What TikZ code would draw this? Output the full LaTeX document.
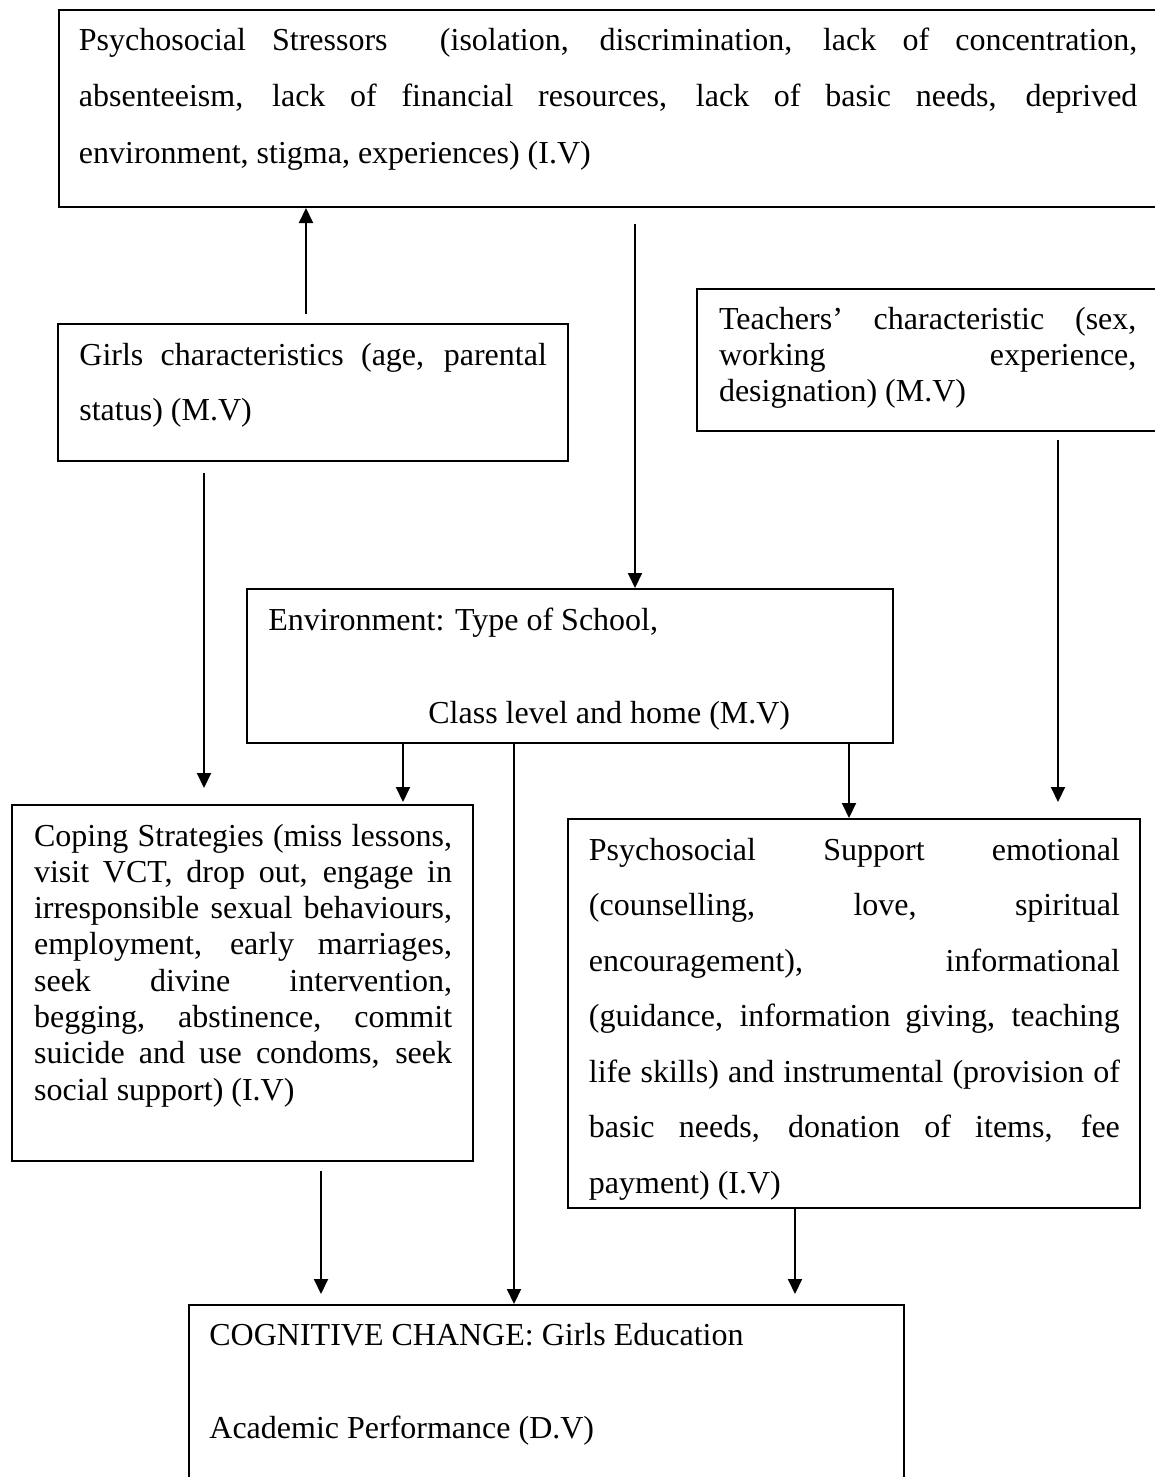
\documentclass[tikz,border=0pt]{standalone}
\usepackage{fontspec}
\setmainfont{Liberation Serif}
\usetikzlibrary{arrows.meta,fit}
\newcommand{\jl}[1]{\hbox to \linewidth{#1}}
\newcommand{\lastl}[1]{\hbox{#1}}
\newcommand{\tbox}[3]{\parbox[t]{#1}{\fontsize{16pt}{#2}\selectfont #3}}
\hbadness=10000
\begin{document}
\begin{tikzpicture}[x=0.5pt,y=-0.5pt,
  box/.style={draw, line width=1pt, inner sep=0pt},
  txt/.style={anchor=base west, inner sep=0pt},
  arr/.style={line width=1pt, -{Triangle[length=7.5pt,width=7pt]}}]
\useasboundingbox (0,0) rectangle (1155,1477);
\fill[white] (0,0) rectangle (1155,1477);
\clip (0,0) rectangle (1155,1477);

% boxes
\node[box, fit={(58.5,10) (1162,207)}] (top) {};
\node[box, fit={(58,324) (568,461)}] (girls) {};
\node[box, fit={(697,289) (1162,431)}] (teach) {};
\node[box, fit={(247,589) (893,743)}] (env) {};
\node[box, fit={(12,805) (473,1161)}] (cope) {};
\node[box, fit={(568,819) (1140,1207.5)}] (supp) {};
\node[box, fit={(189,1305) (904,1495)}] (cog) {};

% texts
\node[txt] (ttop) at (78.5,50.7) {\tbox{529.25pt}{28.15pt}{%
\jl{Psychosocial Stressors\ \ (isolation, discrimination, lack of concentration,}
\jl{absenteeism, lack of financial resources, lack of basic needs, deprived}
\lastl{environment, stigma, experiences) (I.V)}}};

\node[txt] (tgirls) at (79,365) {\tbox{233.75pt}{27.85pt}{%
\jl{Girls characteristics (age, parental}
\lastl{status) (M.V)}}};

\node[txt] (tteach) at (718.6,329.3) {\tbox{208.7pt}{18.1pt}{%
\jl{Teachers’ characteristic (sex,}
\jl{working experience,}
\lastl{designation) (M.V)}}};

\node[txt] (tenv) at (268,630) {\tbox{310pt}{46.5pt}{%
\lastl{Environment: Type of School,}
\lastl{\hspace*{80pt}Class level and home (M.V)}}};

\node[txt] (tcope) at (33.7,846) {\tbox{209pt}{18.15pt}{%
\jl{Coping Strategies (miss lessons,}
\jl{visit VCT, drop out, engage in}
\jl{irresponsible sexual behaviours,}
\jl{employment, early marriages,}
\jl{seek divine intervention,}
\jl{begging, abstinence, commit}
\jl{suicide and use condoms, seek}
\lastl{social support) (I.V)}}};

\node[txt] (tsupp) at (588.5,860) {\tbox{265.5pt}{27.75pt}{%
\jl{Psychosocial Support emotional}
\jl{(counselling, love, spiritual}
\jl{encouragement), informational}
\jl{(guidance, information giving, teaching}
\jl{life skills) and instrumental (provision of}
\jl{basic needs, donation of items, fee}
\lastl{payment) (I.V)}}};

\node[txt] (tcog) at (209,1345) {\tbox{340pt}{46.5pt}{%
\lastl{COGNITIVE CHANGE: Girls Education}
\lastl{Academic Performance (D.V)}}};

% x positions of connectors
\coordinate (xa) at (306,0);
\coordinate (xb) at (635,0);
\coordinate (xc) at (204,0);
\coordinate (xd) at (1058,0);
\coordinate (xe) at (403,0);
\coordinate (xf) at (514,0);
\coordinate (xg) at (849,0);
\coordinate (xh) at (321,0);
\coordinate (xi) at (795,0);

% connectors
\draw[arr, shorten <=4.5pt] (girls.north -| xa) -- (top.south -| xa);
\draw[arr, shorten <=8pt] (top.south -| xb) -- (env.north -| xb);
\draw[arr, shorten <=5.5pt, shorten >=8pt] (girls.south -| xc) -- (cope.north -| xc);
\draw[arr, shorten <=4pt, shorten >=8pt] (teach.south -| xd) -- (supp.north -| xd);
\draw[arr, shorten >=1pt] (env.south -| xe) -- (cope.north -| xe);
\draw[arr] (env.south -| xf) -- (cog.north -| xf);
\draw[arr] (env.south -| xg) -- (supp.north -| xg);
\draw[arr, shorten <=4.5pt, shorten >=5pt] (cope.south -| xh) -- (cog.north -| xh);
\draw[arr, shorten >=5pt] (supp.south -| xi) -- (cog.north -| xi);
\end{tikzpicture}
\end{document}
